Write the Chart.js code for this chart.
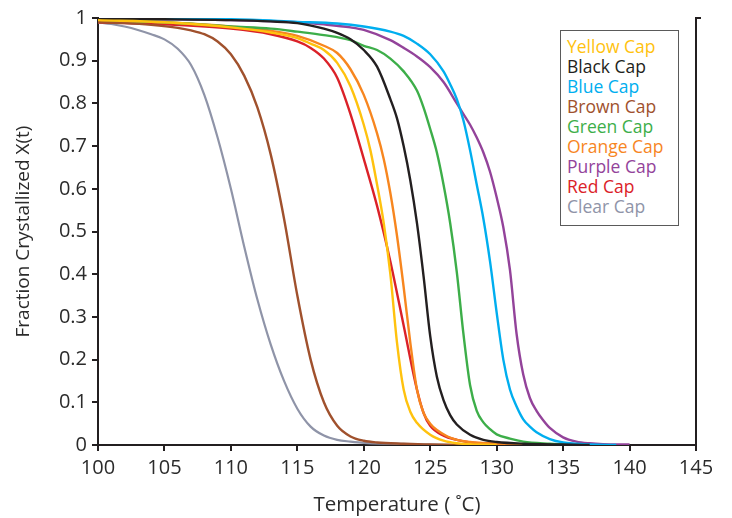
<!DOCTYPE html>
<html>
<head>
<meta charset="utf-8">
<script src="https://cdn.jsdelivr.net/npm/chart.js@4/dist/chart.umd.min.js"></script>
<style>
  html, body { margin: 0; padding: 0; background: #fff; }
  #wrap { position: relative; width: 732px; height: 518px; }
  #legend { position: absolute; left: 560px; top: 30px; width: 119px; height: 196px;
    border: 1.5px solid #5a5a5a; padding: 5px 0 0 6px; box-sizing: border-box;
    font-family: "Open Sans", sans-serif; font-size: 17.5px; line-height: 20px; background: #fff; }
  #legend div { white-space: nowrap; }
</style>
</head>
<body>
<div id="wrap">
  <canvas id="c" width="732" height="518"></canvas>
  <div id="legend"></div>
</div>
<script>
// ---- data ----
const seriesNames = ["Yellow Cap","Black Cap","Blue Cap","Brown Cap","Green Cap","Orange Cap","Purple Cap","Red Cap","Clear Cap"];
const seriesColors = ["#FFC20E","#231F20","#00AEEF","#A0512D","#3DAE49","#F7861F","#93439A","#DB2128","#8F94A8"];

const xTicks = [100,105,110,115,120,125,130,135,140,145];
const yTicks = [0,0.1,0.2,0.3,0.4,0.5,0.6,0.7,0.8,0.9,1];

const yellowT = [100,105,110,113,115,116,117,118,119,120,120.5,121,121.5,122,122.5,123,123.5,124,125,126,127,128,130];
const yellowX = [0.995,0.99,0.978,0.966,0.953,0.94,0.925,0.895,0.84,0.75,0.69,0.61,0.52,0.4,0.24,0.13,0.078,0.052,0.024,0.01,0.004,0.002,0];

const blackT = [100,105,110,113,115,117,118,119,120,121,122,122.5,123,123.5,124,124.5,125,125.5,126,126.5,127,128,129,130,132,135,137];
const blackX = [0.998,0.997,0.995,0.992,0.988,0.975,0.965,0.95,0.925,0.886,0.81,0.765,0.7,0.62,0.52,0.395,0.255,0.16,0.105,0.07,0.048,0.024,0.012,0.007,0.003,0.001,0];

const blueT = [100,105,110,115,118,120,122,123,124,125,126,126.5,127,127.5,128,128.5,129,129.5,130,130.5,131,131.5,132,132.5,133,134,135,136,137,139];
const blueX = [1.0,0.998,0.997,0.991,0.987,0.98,0.968,0.958,0.94,0.915,0.875,0.845,0.81,0.76,0.69,0.61,0.53,0.43,0.31,0.2,0.13,0.09,0.06,0.043,0.03,0.014,0.006,0.003,0.001,0];

const brownT = [100,102,104,106,107,108,109,110,111,112,113,114,115,116,117,118,119,120,121,123,125,128];
const brownX = [0.99,0.988,0.984,0.977,0.971,0.962,0.945,0.915,0.865,0.79,0.68,0.53,0.35,0.2,0.1,0.045,0.02,0.01,0.006,0.003,0.001,0];

const greenT = [100,105,110,113,115,117,119,120,121,122,123,124,124.5,125,125.5,126,126.5,127,127.5,128,128.5,129,129.5,130,131,132,134,136];
const greenX = [0.995,0.99,0.98,0.975,0.968,0.96,0.948,0.935,0.925,0.905,0.875,0.83,0.79,0.74,0.685,0.61,0.52,0.405,0.26,0.14,0.08,0.053,0.037,0.025,0.015,0.008,0.003,0];

const orangeT = [100,105,110,113,115,117,118,119,120,121,121.5,122,122.5,123,123.5,124,124.5,125,125.5,126.3,127,128,130,132,135];
const orangeX = [0.995,0.99,0.98,0.97,0.958,0.935,0.918,0.88,0.82,0.73,0.67,0.59,0.49,0.37,0.24,0.13,0.075,0.05,0.035,0.02,0.012,0.007,0.003,0.001,0];

const purpleT = [100,105,110,115,117,119,120,122,123,124,125,126,127,127.5,128,128.5,129,129.5,130,130.5,131,131.5,132,132.5,133,133.5,134,135,136,137,138,140];
const purpleX = [0.998,0.997,0.995,0.99,0.985,0.978,0.972,0.948,0.93,0.91,0.885,0.85,0.8,0.775,0.75,0.72,0.685,0.64,0.58,0.51,0.41,0.26,0.165,0.11,0.08,0.058,0.04,0.018,0.008,0.004,0.002,0.001];

const redT = [100,105,110,113,115,116,117,118,119,120,121,122,123,124,124.5,125,126,127,128,130,132,135];
const redX = [0.99,0.985,0.975,0.962,0.945,0.93,0.905,0.86,0.775,0.67,0.56,0.43,0.28,0.13,0.075,0.045,0.022,0.012,0.006,0.003,0.001,0];

const clearT = [100,101,102,103,104,105,106,107,108,109,110,111,112,113,114,115,116,117,118,119,120,122,125,128];
const clearX = [0.99,0.986,0.98,0.972,0.962,0.95,0.928,0.89,0.82,0.72,0.6,0.465,0.34,0.235,0.15,0.085,0.043,0.022,0.012,0.008,0.005,0.003,0.001,0];

const seriesT = [yellowT, blackT, blueT, brownT, greenT, orangeT, purpleT, redT, clearT];
const seriesX = [yellowX, blackX, blueX, brownX, greenX, orangeX, purpleX, redX, clearX];

// ---- chart ----
const axisColor = "#231F20";
const textColor = "#2b2b2b";
const fontFam = '"Open Sans", sans-serif';

const datasets = seriesNames.map((name, i) => ({
  label: name,
  data: seriesT[i].map((t, j) => ({ x: t, y: seriesX[i][j] })),
  borderColor: seriesColors[i],
  backgroundColor: seriesColors[i],
  borderWidth: i === 8 ? 2.2 : 2.4,
  pointRadius: 0,
  fill: false,
  cubicInterpolationMode: 'monotone'
}));

new Chart(document.getElementById('c'), {
  type: 'line',
  data: { datasets },
  options: {
    responsive: false,
    animation: false,
    layout: { padding: { top: 18, left: 0, right: 0, bottom: 0 } },
    plugins: { legend: { display: false }, tooltip: { enabled: false } },
    scales: {
      x: {
        type: 'linear', min: 100, max: 145,
        afterBuildTicks: s => { s.ticks = xTicks.map(v => ({ value: v })); },
        afterFit: s => { s.height = 73; },
        ticks: { color: textColor, font: { family: fontFam, size: 20 }, padding: 5, callback: v => String(v), maxRotation: 0, autoSkip: false },
        grid: { drawOnChartArea: false, drawTicks: true, tickLength: 6, color: axisColor, lineWidth: 2 },
        border: { display: true, color: axisColor, width: 2 },
        title: { display: true, text: 'Temperature ( ˚C)', color: textColor, font: { family: fontFam, size: 20.5 }, padding: { top: 0, bottom: 1 } }
      },
      y: {
        min: 0, max: 1,
        afterBuildTicks: s => { s.ticks = yTicks.map(v => ({ value: v })); },
        afterFit: s => { s.width = 98; },
        ticks: { color: textColor, font: { family: fontFam, size: 20 }, padding: 5, callback: v => String(v), autoSkip: false },
        grid: { drawOnChartArea: false, drawTicks: true, tickLength: 6, color: axisColor, lineWidth: 2 },
        border: { display: true, color: axisColor, width: 2 },
        title: { display: true, text: 'Fraction Crystallized X(t)', color: textColor, font: { family: fontFam, size: 19 }, padding: { top: 12, bottom: 0 } }
      },
      y2: {
        position: 'right', min: 0, max: 1,
        afterBuildTicks: s => { s.ticks = [{ value: yTicks[yTicks.length - 1] }]; },
        afterFit: s => { s.width = 36; },
        ticks: { display: false },
        grid: { drawOnChartArea: false, drawTicks: true, tickLength: 5, color: axisColor, lineWidth: 2 },
        border: { display: true, color: axisColor, width: 2 }
      }
    }
  }
});

// HTML legend generated from the series arrays
const lg = document.getElementById('legend');
seriesNames.forEach((n, i) => {
  const d = document.createElement('div');
  d.textContent = n;
  d.style.color = seriesColors[i];
  lg.appendChild(d);
});
</script>
</body>
</html>
